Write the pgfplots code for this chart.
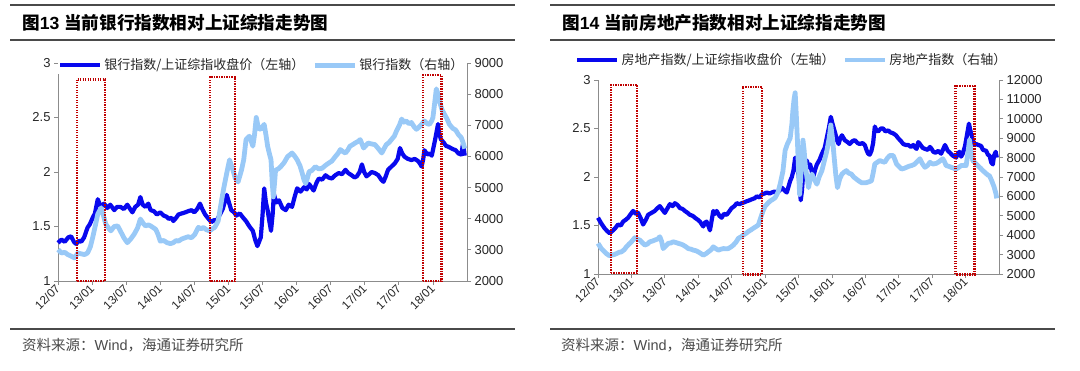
\documentclass[border=0pt]{standalone}
\usepackage{fontspec}
\setmainfont{Liberation Sans}
\newfontfamily\cjk{Noto Sans CJK SC}
\usepackage{pgfplots}
\pgfplotsset{compat=1.18}
\definecolor{dk}{HTML}{0808EE}
\definecolor{lt}{HTML}{99C9F7}
\definecolor{bx}{HTML}{C00000}
\definecolor{axc}{HTML}{8C8C8C}
\definecolor{tx}{HTML}{262626}
\definecolor{hdr}{HTML}{4A4A4A}

\pgfplotsset{
  base/.style={scale only axis, xmin=0, xmax=72, clip=false,
    tick align=outside, major tick length=4bp,
    every tick/.style={axc, line width=0.8bp},
    axis line style={axc, line width=0.9bp},
    tick label style={font=\fontsize{13bp}{15bp}\selectfont, text=tx},
    /pgf/number format/assume math mode=true,
    /pgf/number format/set thousands separator={},
    scaled y ticks=false,
    xtick={0,6,...,66},
    xticklabels={12/07,13/01,13/07,14/01,14/07,15/01,15/07,16/01,16/07,17/01,17/07,18/01},
    xticklabel style={rotate=45, anchor=east, font=\fontsize{11.8bp}{13bp}\selectfont, inner sep=1bp, yshift=-1bp},
  },
  leftax/.style={base, axis y line*=left, axis x line*=bottom, ymin=1, ymax=3, ytick={1,1.5,2,2.5,3}},
  rightax/.style={base, axis y line*=right, axis x line=none},
  dkl/.style={dk, line width=4.2bp, line join=round},
  ltl/.style={lt, line width=4.8bp, line join=round},
  boxl/.style={bx, line width=2.4bp, dash pattern=on 1.4bp off 1.1bp, forget plot},
  leg/.style={legend style={draw=none, fill=white, legend columns=2,
      font=\cjk\fontsize{13bp}{15bp}\selectfont, text=tx, inner xsep=0pt, inner ysep=1bp,
      /tikz/every even column/.append style={column sep=6bp}},
    legend cell align=left,
    legend image code/.code={\draw[##1] (0bp,0bp) -- (40bp,0bp);}},
}

\begin{document}
\begin{tikzpicture}[x=1bp,y=1bp]
\path[use as bounding box] (0,0) rectangle (1080,370);
% ---------- left panel frame ----------
\draw[hdr, line width=1.1bp] (10,365) -- (515,365);
\draw[hdr, line width=1.3bp] (10,330) -- (515,330);
\node[anchor=west, inner sep=0, text=black] at (22,347) {\fontsize{17.6bp}{19bp}\selectfont{\cjk\bfseries 图}\textbf{13} {\cjk\bfseries 当前银行指数相对上证综指走势图}};
\draw[hdr, line width=1.3bp] (10,41) -- (515,41);
\node[anchor=west, inner sep=0, text=hdr] at (22,25) {\fontsize{14.5bp}{16bp}\selectfont{\cjk 资料来源：}Wind{\cjk ，海通证券研究所}};
% ---------- right panel frame ----------
\draw[hdr, line width=1.1bp] (550,365) -- (1055,365);
\draw[hdr, line width=1.3bp] (550,330) -- (1055,330);
\node[anchor=west, inner sep=0, text=black] at (562,347) {\fontsize{17.6bp}{19bp}\selectfont{\cjk\bfseries 图}\textbf{14} {\cjk\bfseries 当前房地产指数相对上证综指走势图}};
\draw[hdr, line width=1.3bp] (550,41) -- (1055,41);
\node[anchor=west, inner sep=0, text=hdr] at (561,25) {\fontsize{14.5bp}{16bp}\selectfont{\cjk 资料来源：}Wind{\cjk ，海通证券研究所}};

% ================= LEFT PANEL =================
\begin{axis}[leftax, at={(58bp,89bp)}, anchor=south west, width=409bp, height=218bp]
\addplot[dkl] table {
x y
0 1.35
0.6 1.38
1.2 1.36
1.8 1.40
2.3 1.41
2.8 1.36
3.2 1.34
3.7 1.37
4.1 1.36
4.6 1.40
5.2 1.49
5.6 1.52
6.1 1.58
6.5 1.62
7.0 1.75
7.3 1.71
7.6 1.68
8.1 1.71
8.7 1.67
9.2 1.70
9.9 1.65
10.4 1.68
11.0 1.68
11.6 1.66
12.2 1.70
12.7 1.66
13.1 1.63
13.6 1.68
14.1 1.70
14.5 1.77
14.9 1.70
15.4 1.68
15.9 1.71
16.3 1.65
16.9 1.64
17.4 1.61
18.0 1.63
18.6 1.60
19.1 1.59
19.5 1.57
20.0 1.58
20.3 1.55
20.8 1.58
21.2 1.61
21.8 1.62
22.4 1.63
22.9 1.64
23.5 1.65
24.0 1.63
24.5 1.66
25.0 1.71
25.4 1.66
25.9 1.61
26.5 1.57
27.0 1.54
27.5 1.56
27.9 1.55
28.5 1.61
29.0 1.66
29.7 1.79
30.1 1.72
30.5 1.65
31.0 1.63
31.4 1.60
32.0 1.62
32.6 1.58
33.1 1.55
33.7 1.50
34.3 1.46
34.7 1.38
35.1 1.32
35.4 1.36
35.7 1.40
36.0 1.60
36.3 1.85
36.6 1.72
36.9 1.65
37.2 1.55
37.5 1.46
37.8 1.62
38.0 1.80
38.4 1.72
38.9 1.74
39.5 1.67
40.1 1.65
40.6 1.70
41.2 1.68
41.7 1.78
42.1 1.85
42.7 1.82
43.3 1.86
43.8 1.84
44.2 1.89
44.6 1.86
45.0 1.83
45.5 1.90
45.9 1.94
46.5 1.93
47.1 1.97
47.6 1.95
48.2 1.94
48.8 1.97
49.4 1.99
50.0 1.98
50.6 2.02
51.1 1.99
51.7 1.97
52.2 1.95
52.6 1.96
53.1 2.00
53.5 2.07
53.9 2.00
54.3 1.96
54.8 1.98
55.2 2.00
55.8 1.99
56.4 1.97
56.9 1.93
57.3 1.91
57.7 1.96
58.1 2.02
58.7 2.05
59.3 2.08
59.8 2.12
60.2 2.22
60.6 2.17
61.0 2.14
61.6 2.12
62.2 2.11
62.8 2.12
63.4 2.10
63.8 2.07
64.0 2.05
64.3 2.12
64.5 2.20
65.0 2.16
65.4 2.17
65.8 2.15
66.0 2.20
66.4 2.30
66.9 2.44
67.1 2.36
67.4 2.30
67.9 2.27
68.3 2.24
68.8 2.23
69.5 2.21
70.0 2.20
70.5 2.17
71.0 2.16
71.3 2.26
71.6 2.15
};
\end{axis}
\begin{axis}[rightax, leg, at={(58bp,89bp)}, anchor=south west, width=409bp, height=218bp,
  ymin=2000, ymax=9000, ytick={2000,3000,...,9000},
  legend style={at={(0,0.99)}, anchor=west}]
\addlegendimage{dkl}
\addlegendentry{银行指数/上证综指收盘价（左轴）}
\addplot[ltl] table {
x y
0 3010
0.6 2900
1.2 2920
1.7 2850
2.3 2800
2.9 2740
3.5 2900
4.1 2870
4.7 2850
5.2 2900
5.7 3100
6.1 3390
6.6 3800
7.0 4150
7.6 4350
8.0 4100
8.4 3830
8.9 3700
9.3 3610
9.9 3750
10.5 3770
11.0 3600
11.6 3390
12.2 3230
12.8 3350
13.4 3500
14.0 3700
14.5 3990
15.0 3850
15.4 3770
15.9 3800
16.3 3770
17.2 3660
17.6 3500
18.0 3280
18.6 3300
19.2 3230
19.8 3200
20.3 3230
20.8 3300
21.2 3280
21.8 3350
22.4 3390
22.9 3420
23.5 3390
24.1 3500
24.7 3720
25.2 3680
25.6 3720
26.1 3650
26.7 3610
27.2 3680
27.6 3720
28.2 3930
28.8 4590
29.2 5000
29.7 5460
30.2 5890
30.8 5560
31.2 5300
31.7 5180
32.3 5560
32.7 5900
33.1 6540
33.7 6650
34.0 6500
34.3 6330
34.6 6700
34.9 7250
35.3 6900
35.7 6870
36.0 6950
36.3 7030
36.6 6700
36.9 6330
37.2 6100
37.5 5890
37.7 5200
37.9 4700
38.1 5100
38.3 5560
38.8 5600
39.2 5670
39.8 5800
40.4 5990
40.8 6050
41.2 6110
41.7 6000
42.1 5890
42.6 5700
43.0 5460
43.3 5250
43.6 5130
43.9 5300
44.2 5510
44.7 5550
45.3 5670
45.9 5600
46.5 5620
47.0 5700
47.6 5780
48.2 5850
48.8 5990
49.3 6100
49.7 6220
50.2 6150
50.6 6110
51.0 6200
51.4 6330
51.9 6380
52.3 6430
52.8 6480
53.2 6540
53.8 6270
54.2 6350
54.6 6430
55.2 6400
55.8 6380
56.4 6250
57.0 6110
57.4 6250
57.8 6380
58.3 6450
58.7 6540
59.2 6650
59.6 6820
60.1 7000
60.5 7200
60.9 7100
61.3 7140
61.8 7050
62.2 7090
62.7 6950
63.1 6870
63.6 6950
64.0 7030
64.5 7140
65.0 7050
65.4 7030
65.8 7150
66.0 7250
66.3 7700
66.6 8170
66.9 8000
67.2 7740
67.6 7500
68.0 7360
68.5 7200
68.9 7030
69.5 6900
70.0 6850
70.5 6700
71.0 6600
71.3 6450
71.6 6250
};
\addlegendentry{银行指数（右轴）}
\addplot[boxl] coordinates {(3.3,2000) (3.3,8475) (8.3,8475) (8.3,2000) (3.3,2000)};
\addplot[boxl] coordinates {(26.8,2000) (26.8,8545) (31.2,8545) (31.2,2000) (26.8,2000)};
\addplot[boxl] coordinates {(64.3,2000) (64.3,8615) (67.5,8615) (67.5,2000) (64.3,2000)};
\end{axis}

% ================= RIGHT PANEL =================
\begin{axis}[leftax, at={(598bp,96bp)}, anchor=south west, width=401bp, height=194bp]
\addplot[dkl] table {
x y
0 1.58
0.3 1.55
0.6 1.52
1.2 1.47
1.7 1.44
2.1 1.42
2.7 1.45
3.2 1.48
3.6 1.51
4.1 1.50
4.5 1.54
5.0 1.56
5.4 1.58
5.9 1.62
6.3 1.65
6.8 1.62
7.2 1.63
7.7 1.57
8.1 1.51
8.6 1.56
9.0 1.61
9.6 1.63
10.2 1.65
10.7 1.68
11.1 1.70
11.6 1.66
12.0 1.63
12.5 1.68
12.9 1.72
13.4 1.70
13.8 1.73
14.3 1.71
14.7 1.68
15.2 1.67
15.6 1.65
16.1 1.63
16.5 1.61
17.0 1.60
17.4 1.58
17.9 1.56
18.3 1.54
18.9 1.49
19.2 1.53
19.5 1.54
19.8 1.50
20.1 1.45
20.4 1.55
20.7 1.65
21.0 1.62
21.3 1.65
21.8 1.60
22.2 1.58
22.6 1.62
23.1 1.61
23.5 1.64
24.0 1.68
24.5 1.70
24.9 1.73
25.4 1.72
25.8 1.73
26.3 1.74
26.7 1.75
27.2 1.76
27.6 1.77
28.1 1.78
28.5 1.80
29.0 1.79
29.4 1.82
29.9 1.83
30.3 1.84
30.8 1.83
31.2 1.84
31.7 1.85
32.1 1.84
32.6 1.86
33.0 1.89
33.5 1.86
33.9 1.84
34.2 1.90
34.5 1.96
34.8 2.00
35.1 2.07
35.4 2.20
35.7 2.10
36.0 2.03
36.2 1.90
36.4 1.76
36.6 1.85
36.9 2.07
37.2 2.12
37.5 2.17
37.8 2.10
38.1 2.13
38.4 2.05
38.7 2.01
39.0 2.08
39.3 2.13
39.8 2.18
40.2 2.24
40.7 2.30
41.1 2.41
41.5 2.52
41.8 2.62
42.1 2.55
42.6 2.45
42.9 2.38
43.2 2.34
43.5 2.40
43.8 2.43
44.3 2.38
44.8 2.36
45.2 2.34
45.7 2.37
46.1 2.38
46.6 2.35
47.0 2.34
47.5 2.35
47.9 2.33
48.2 2.28
48.5 2.24
48.8 2.23
49.1 2.27
49.4 2.35
49.7 2.52
50.0 2.48
50.3 2.47
50.8 2.50
51.2 2.50
51.6 2.47
52.1 2.48
52.5 2.46
53.0 2.45
53.5 2.43
53.9 2.40
54.4 2.37
54.8 2.34
55.3 2.33
55.7 2.33
56.2 2.31
56.6 2.33
57.0 2.30
57.2 2.29
57.5 2.36
57.8 2.34
58.3 2.30
58.7 2.29
59.2 2.28
59.6 2.31
59.9 2.29
60.2 2.26
60.6 2.25
61.1 2.27
61.6 2.24
62.0 2.29
62.3 2.33
62.8 2.27
63.2 2.25
63.7 2.22
64.0 2.21
64.3 2.20
64.6 2.24
64.9 2.26
65.2 2.21
65.5 2.24
65.9 2.32
66.3 2.45
66.6 2.55
66.9 2.47
67.2 2.40
67.6 2.33
67.9 2.34
68.3 2.33
68.8 2.32
69.1 2.28
69.7 2.27
70.0 2.23
70.3 2.22
70.6 2.15
70.9 2.13
71.1 2.22
71.4 2.26
71.6 2.20
};
\end{axis}
\begin{axis}[rightax, leg, at={(598bp,96bp)}, anchor=south west, width=401bp, height=194bp,
  ymin=2000, ymax=12000, ytick={2000,3000,...,12000},
  legend style={at={(-0.057,1.103)}, anchor=west}]
\addlegendimage{dkl}
\addlegendentry{房地产指数/上证综指收盘价（左轴）}
\addplot[ltl] table {
x y
0 3580
0.6 3310
1.0 3200
1.5 3050
2.0 2950
2.4 2970
2.9 3000
3.3 3050
3.8 3120
4.2 3140
4.7 3250
5.1 3400
5.6 3550
6.0 3660
6.6 3870
7.0 3800
7.5 3750
8.0 3600
8.4 3490
8.9 3550
9.3 3660
9.8 3700
10.2 3750
10.7 3800
11.1 3920
11.4 3700
11.7 3310
12.2 3450
12.6 3580
13.1 3600
13.5 3660
14.0 3620
14.4 3580
14.9 3540
15.3 3490
15.8 3400
16.2 3310
16.7 3280
17.1 3230
17.6 3200
18.0 3140
18.5 3050
18.9 2970
19.4 3050
19.8 3140
20.3 3250
20.7 3400
21.2 3300
21.6 3230
22.1 3280
22.5 3310
23.0 3300
23.4 3310
23.9 3400
24.3 3490
24.8 3650
25.2 3840
25.7 3920
26.1 4010
26.6 4100
27.0 4190
27.5 4280
27.9 4360
28.4 4450
28.8 4530
29.1 4800
29.4 5060
29.7 5300
30.0 5490
30.5 5650
30.9 5760
31.4 5850
31.8 5930
32.3 6200
32.7 6630
33.2 7300
33.6 8370
34.0 8700
34.5 9000
34.8 9700
35.0 10460
35.2 11000
35.4 11340
35.6 10200
35.8 8900
36.0 7400
36.2 6100
36.5 7500
36.8 8900
37.0 8400
37.2 7670
37.5 7000
37.8 6450
38.1 6900
38.4 7150
38.8 6900
39.3 6630
39.7 7000
40.2 7330
40.7 7900
41.1 8370
41.5 9000
41.8 9680
42.1 9000
42.4 8020
42.7 7100
43.0 6450
43.4 6900
43.8 7150
44.2 7250
44.6 7330
45.0 7200
45.5 7150
45.9 7000
46.4 6890
46.8 6800
47.3 6710
47.7 6700
48.2 6710
48.6 6750
49.1 6800
49.4 7200
49.7 7670
50.1 7750
50.6 7850
51.0 7800
51.5 7760
51.9 7950
52.4 8110
53.0 8110
53.3 7900
53.6 7670
54.0 7550
54.5 7410
55.0 7450
55.4 7500
55.8 7550
56.3 7590
56.8 7650
57.2 7760
57.5 7850
57.8 7940
58.2 7700
58.7 7500
59.2 7600
59.6 7760
59.9 7700
60.2 7670
60.7 7700
61.1 7760
61.5 7850
61.9 7940
62.2 7800
62.5 7590
63.0 7550
63.4 7500
63.9 7450
64.3 7410
64.8 7500
65.2 7590
65.7 7600
66.1 7590
66.4 8200
66.7 8900
67.0 8300
67.3 7850
67.8 7700
68.2 7590
68.7 7450
69.1 7330
69.6 7200
70.0 7100
70.3 7060
70.7 6800
71.1 6500
71.4 6200
71.6 5900
};
\addlegendentry{房地产指数（右轴）}
\addplot[boxl] coordinates {(2.3,2050) (2.3,11750) (7.0,11750) (7.0,2050) (2.3,2050)};
\addplot[boxl] coordinates {(26.0,1975) (26.0,11650) (29.4,11650) (29.4,1975) (26.0,1975)};
\addplot[boxl] coordinates {(64.2,1975) (64.2,11700) (67.6,11700) (67.6,1975) (64.2,1975)};
\end{axis}
\end{tikzpicture}
\end{document}
